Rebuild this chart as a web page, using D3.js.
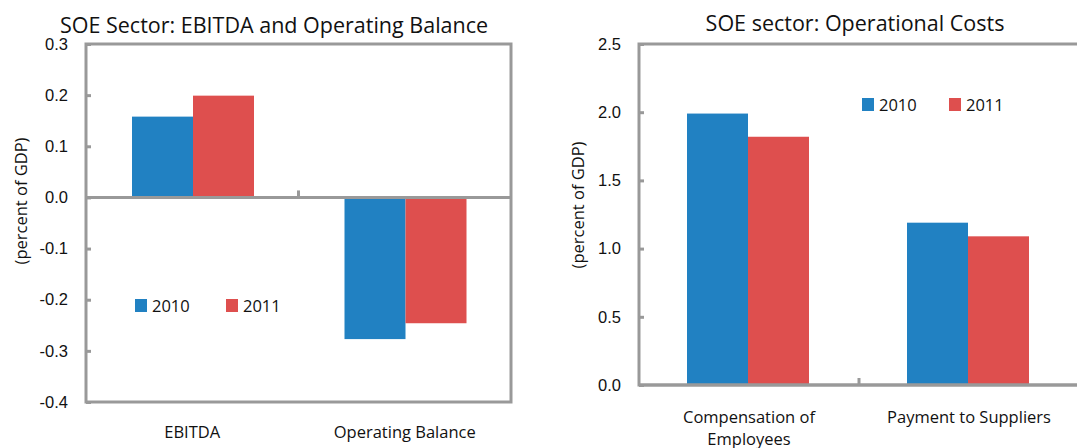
<!DOCTYPE html>
<html><head><meta charset="utf-8">
<script src="https://cdn.jsdelivr.net/npm/d3@7"></script>
<style>body{margin:0;background:#fff}svg{display:block;font-family:"Open Sans","Noto Sans",sans-serif}</style>
</head><body>
<svg id="c" width="1077" height="448"></svg>
<script>
const seriesNames = ["2010", "2011"];
const colors = ["#2181C2", "#DE4F4E"];

const leftCategories = ["EBITDA", "Operating Balance"];
const left2010 = [0.158, -0.277];
const left2011 = [0.199, -0.246];
const leftTicks = [0.3, 0.2, 0.1, 0.0, -0.1, -0.2, -0.3, -0.4];

const rightCategories = [["Compensation of", "Employees"], ["Payment to Suppliers"]];
const right2010 = [1.99, 1.19];
const right2011 = [1.82, 1.09];
const rightTicks = [0.0, 0.5, 1.0, 1.5, 2.0, 2.5];

const svg = d3.select("#c");
const frame = "#999";
const FS = 16.5;

function panel(o){
  const g = svg.append("g");
  const x = d3.scaleBand().domain(o.cats.map((d,i)=>i)).range([o.x0, o.x1]);
  const y = d3.scaleLinear().domain(o.domain).range([o.y1, o.y0]);
  const data = o.cats.map((c,i)=>[o.s1[i], o.s2[i]]);
  data.forEach((vals,i)=>{
    vals.forEach((v,j)=>{
      g.append("rect")
        .attr("x", x(i) + o.gx0 + j*o.bw)
        .attr("width", o.bw)
        .attr("y", y(Math.max(0,v)))
        .attr("height", Math.abs(y(v)-y(0)))
        .attr("fill", colors[j]);
    });
  });
  g.append("rect").attr("x", o.x0).attr("y", o.y0).attr("width", o.x1-o.x0).attr("height", o.y1-o.y0)
    .attr("fill","none").attr("stroke",frame).attr("stroke-width",3);
  g.append("line").attr("x1",o.x0).attr("x2",o.x1).attr("y1",y(0)).attr("y2",y(0)).attr("stroke",frame).attr("stroke-width",3);
  const ax = d3.axisLeft(y).tickValues(o.ticks).tickFormat(d3.format(".1f")).tickSize(-5).tickPadding(18);
  const ag = g.append("g").attr("transform",`translate(${o.x0},0)`).call(ax);
  ag.select(".domain").remove();
  ag.selectAll(".tick line").attr("stroke",frame).attr("stroke-width",3);
  ag.selectAll(".tick text").attr("font-size",FS).attr("fill","#111").attr("font-family","inherit")
    .text(d=> d3.format(".1f")(d).replace("−","-"));
  for(let i=1;i<o.cats.length;i++){
    g.append("line").attr("x1",x(i)).attr("x2",x(i)).attr("y1",y(0)).attr("y2",y(0)-7).attr("stroke",frame).attr("stroke-width",3);
  }
  o.cats.forEach((c,i)=>{
    const lines = Array.isArray(c)?c:[c];
    lines.forEach((t,k)=>{
      g.append("text").attr("x", x(i)+x.bandwidth()/2).attr("y", o.labY + k*22)
        .attr("text-anchor","middle").attr("font-size",FS).attr("fill","#111").text(t);
    });
  });
  g.append("text").attr("x",o.tx).attr("y",o.ty).attr("text-anchor","middle").attr("font-size",21.5).attr("fill","#111").text(o.title);
  g.append("text").attr("transform",`translate(${o.ylx},${o.yly}) rotate(-90)`).attr("text-anchor","middle")
    .attr("font-size",FS).attr("fill","#111").text("(percent of GDP)");
  seriesNames.forEach((s,j)=>{
    g.append("rect").attr("x",o.lx[j]).attr("y",o.ly).attr("width",12).attr("height",13).attr("fill",colors[j]);
    g.append("text").attr("x",o.lx[j]+17).attr("y",o.ly+13).attr("font-size",FS).attr("fill","#111").text(s);
  });
}

panel({cats:leftCategories, s1:left2010, s2:left2011, ticks:leftTicks, domain:[-0.4,0.3],
  x0:86, x1:511, y0:44, y1:402, gx0:46, bw:61, labY:438,
  title:"SOE Sector: EBITDA and Operating Balance", tx:274, ty:33, ylx:27, yly:201,
  lx:[135,226], ly:299});

panel({cats:rightCategories, s1:right2010, s2:right2011, ticks:rightTicks, domain:[0,2.5],
  x0:639, x1:1077+2, y0:44, y1:385, gx0:48, bw:61, labY:423,
  title:"SOE sector: Operational Costs", tx:855, ty:31, ylx:584, yly:205,
  lx:[862,949], ly:98});
</script>
</body></html>
